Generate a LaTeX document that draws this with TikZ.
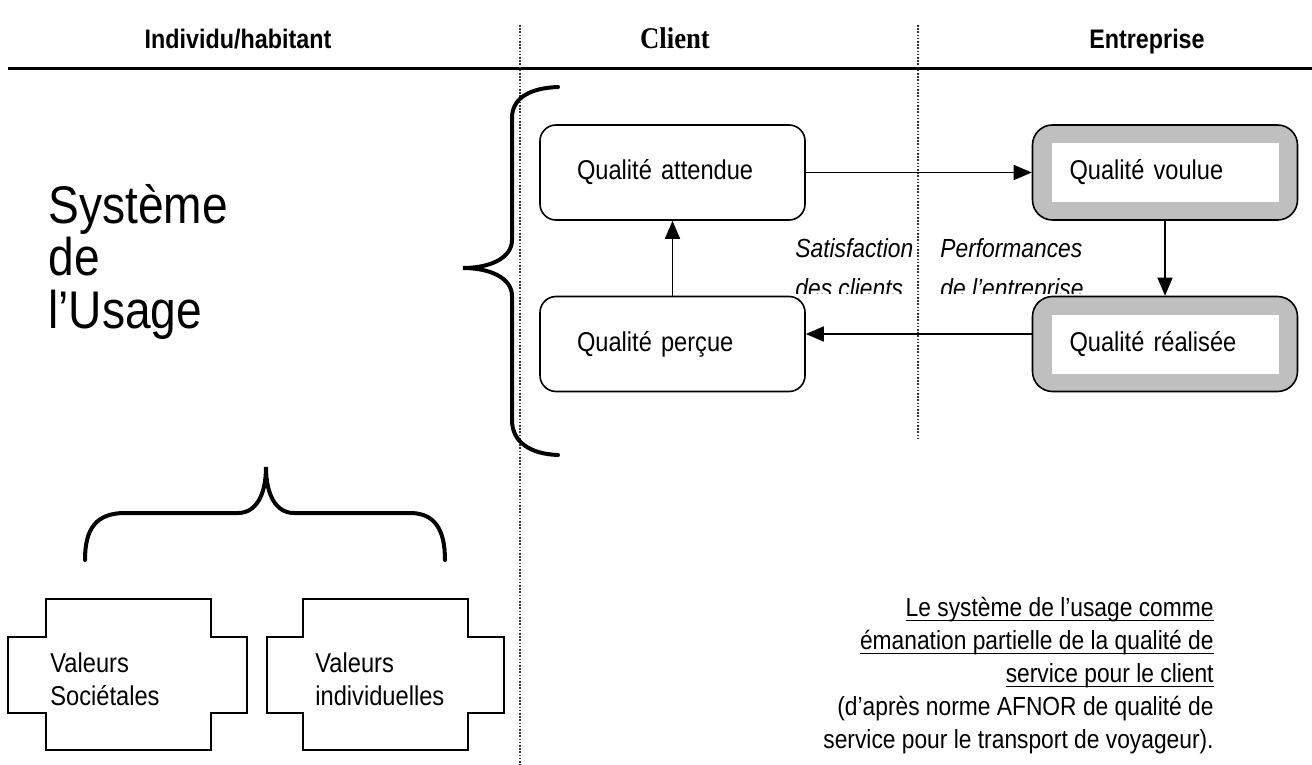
\documentclass[tikz,border=0pt]{standalone}
\usepackage{fontspec}
\setmainfont{Liberation Sans}[FakeStretch=0.87]
\newfontfamily\clientfont{Liberation Serif}[FakeStretch=0.89]
\usetikzlibrary{arrows.meta}

\newcommand\boxfont{\fontsize{13.6}{16.5}\selectfont}
\newcommand\souligne[1]{\setbox0=\hbox{#1}\dp0=0pt \vtop{\box0\kern1.5pt\hrule height 0.9pt}}

\begin{document}
\begin{tikzpicture}[x=0.5pt, y=-0.5pt, >={Triangle[length=9pt,width=7.5pt]},
  entete/.style={anchor=base, font=\fontsize{13.4}{16}\selectfont\bfseries},
  pointille/.style={line width=0.7pt, dash pattern=on 0.8pt off 0.8pt, black!80},
  qualbox/.style={draw, line width=0.8pt, rounded corners=8pt, minimum height=47.5pt,
    text width=95.5pt, inner xsep=18.5pt, align=left, font=\boxfont},
  grisbox/.style={qualbox, rounded corners=10pt, fill=gray!50,
    path picture={\fill[white, sharp corners] ([xshift=9.5pt,yshift=-9pt]path picture bounding box.north west)
      rectangle ([xshift=-9.5pt,yshift=9pt]path picture bounding box.south east);}},
  fleche/.style={->, line width=0.8pt},
  accolade/.style={line width=2pt, line cap=round},
  valeur/.style={draw, line width=0.8pt},
  legende/.style={inner sep=0pt, font=\fontsize{13.1}{20}\selectfont\itshape, align=left}]

  \useasboundingbox (0,0) rectangle (1312,765);

  \node[entete] (hindividu) at (238,49) {Individu/habitant};
  \node[entete, font=\fontsize{15}{18}\selectfont\clientfont\bfseries] (hclient) at (675,49) {Client};
  \node[entete] (hentreprise) at (1147,49) {Entreprise};

  \coordinate (regleG) at (8,69);
  \coordinate (regleD) at (1312,69);
  \draw[line width=1.5pt] (regleG) -- (regleD);

  \coordinate (sepA) at (520,25);
  \coordinate (sepAbas) at (520,765);
  \coordinate (sepB) at (918,25);
  \coordinate (sepBbas) at (918,440);
  \draw[pointille] (sepA) -- (sepAbas);
  \draw[pointille] (sepB) -- (sepBbas);

  \node[anchor=north west, inner sep=0pt, align=left, font=\fontsize{26.5}{26.25}\selectfont] (usage) at (48,184)
    {Système\\de\\l’Usage};

  \draw[accolade] (558,87) .. controls (530,88) and (512,98) .. (512,118) -- (512,240)
    .. controls (512,258) and (490,268) .. (463,268)
    .. controls (490,268) and (512,278) .. (512,296) -- (512,420)
    .. controls (512,442) and (530,454) .. (558,455);

  \node[qualbox] (attendue) at (672.5,172.5) {Qualité attendue};
  \node[qualbox] (percue) at (672.5,344) {Qualité perçue};
  \node[grisbox] (voulue) at (1165,172.5) {Qualité voulue};
  \node[grisbox] (realisee) at (1165,344) {Qualité réalisée};

  \draw[fleche] (attendue) -- (voulue);
  \draw[fleche] (voulue) -- (realisee);
  \draw[fleche] ([yshift=5pt]realisee.west) -- ([yshift=5pt]percue.east);
  \draw[fleche] (percue) -- (attendue);

  \begin{scope}
    \clip (780,225) rectangle (1130,293);
    \node[legende, anchor=north west] (satisf) at (795,238) {Satisfaction\\des clients};
    \node[legende, anchor=north west] (perf) at (940,238) {Performances\\de l’entreprise};
  \end{scope}

  \draw[accolade] (85,560) .. controls (85,530) and (95,513) .. (125,513) -- (238,513)
    .. controls (256,513) and (266,495) .. (266,467)
    .. controls (266,495) and (276,513) .. (294,513) -- (410,513)
    .. controls (435,513) and (445,530) .. (445,560);

  \draw[valeur] (8,637) -- (46,637) -- (46,599) -- (211,599) -- (211,637) -- (247,637)
    -- (247,713) -- (211,713) -- (211,750) -- (46,750) -- (46,713) -- (8,713) -- cycle;
  \draw[valeur] (267,637) -- (303,637) -- (303,599) -- (468,599) -- (468,637) -- (504,637)
    -- (504,713) -- (468,713) -- (468,750) -- (303,750) -- (303,713) -- (267,713) -- cycle;
  \node[anchor=north west, inner sep=0pt, align=left, font=\boxfont] (societales) at (50,652)
    {Valeurs\\Sociétales};
  \node[anchor=north west, inner sep=0pt, align=left, font=\boxfont] (individuelles) at (315,652)
    {Valeurs\\individuelles};

  \node[anchor=north east, inner sep=0pt, align=right, font=\fontsize{13.1}{16.5}\selectfont] (note) at (1214,597)
    {\souligne{Le système de l’usage comme}\\
     \souligne{émanation partielle de la qualité de}\\
     \souligne{service pour le client}\\
     (d’après norme AFNOR de qualité de\\
     service pour le transport de voyageur).};
\end{tikzpicture}
\end{document}
